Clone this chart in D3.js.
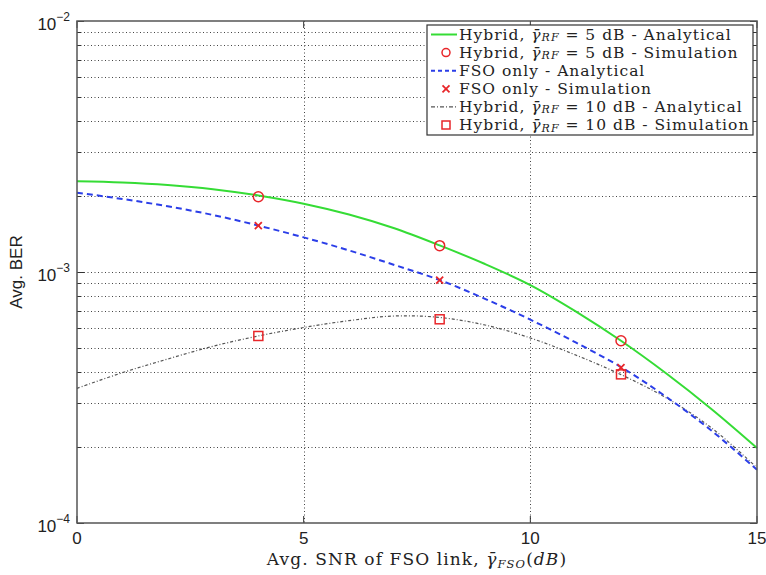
<!DOCTYPE html>
<html>
<head>
<meta charset="utf-8">
<script src="https://cdn.jsdelivr.net/npm/d3@7"></script>
<style>
	body { margin: 0; background: #fff; }
	svg { display: block; }
	.tick-label { font-family: 'Liberation Sans', Arial, sans-serif; font-size: 17px; fill: #222; }
	.serif { font-family: 'DejaVu Serif', serif; fill: #222; }
</style>
</head>
<body>
<div id="chart"></div>
<script>
// snr of the fso link, dB
const snrDb = [0, 1, 2, 3, 4, 5, 6, 7, 8, 9, 10, 11, 12, 13, 14, 15];
// analytical curves, avg ber
const hybrid5Analytical = [2.301e-3, 2.275e-3, 2.223e-3, 2.138e-3, 2.018e-3, 1.871e-3, 1.694e-3, 1.493e-3, 1.276e-3, 1.076e-3, 8.87e-4, 6.97e-4, 5.32e-4, 3.94e-4, 2.84e-4, 1.99e-4];
const fsoAnalytical = [2.07e-3, 1.954e-3, 1.828e-3, 1.687e-3, 1.531e-3, 1.374e-3, 1.219e-3, 1.067e-3, 9.29e-4, 7.82e-4, 6.46e-4, 5.24e-4, 4.18e-4, 3.18e-4, 2.33e-4, 1.63e-4];
const hybrid10Analytical = [3.44e-4, 3.97e-4, 4.5e-4, 5.06e-4, 5.56e-4, 6.01e-4, 6.4e-4, 6.68e-4, 6.59e-4, 6.15e-4, 5.46e-4, 4.67e-4, 3.9e-4, 3.15e-4, 2.39e-4, 1.66e-4];
// simulation points
const simDb = [4, 8, 12];
const hybrid5Sim = [1.995e-3, 1.273e-3, 5.32e-4];
const fsoSim = [1.53e-3, 9.29e-4, 4.16e-4];
const hybrid10Sim = [5.56e-4, 6.48e-4, 3.91e-4];
// ticks
const xTicks = [0, 5, 10, 15];
const yMajor = [1e-4, 1e-3, 1e-2];
const yExp = ['-4', '-3', '-2'];

const width = 766;
const height = 575;
const marginTop = 21;
const marginRight = 9;
const marginBottom = 52;
const marginLeft = 77;
const innerW = width - marginLeft - marginRight;
const innerH = height - marginTop - marginBottom;

const x = d3.scaleLinear().domain([0, 15]).range([0, innerW]);
const y = d3.scaleLog().domain([1e-4, 1e-2]).range([innerH, 0]);

// minor decade ticks 2..9
const yMinor = [];
[1e-4, 1e-3].forEach(d => {
	for (let k = 2; k <= 9; k++) yMinor.push(d * k);
});

const $svg = d3.select('#chart').append('svg')
	.attr('width', width)
	.attr('height', height);

const $g = $svg.append('g')
	.attr('transform', `translate(${marginLeft}, ${marginTop})`);

// grid
const $grid = $g.append('g').attr('class', 'g-grid')
	.attr('stroke', '#444')
	.attr('stroke-width', 1)
	.attr('stroke-dasharray', '1,2.5');

$grid.selectAll('.h')
	.data(yMinor.concat([1e-3]))
	.join('line')
	.attr('x1', 0)
	.attr('x2', innerW)
	.attr('y1', d => Math.round(y(d)) + 0.5)
	.attr('y2', d => Math.round(y(d)) + 0.5);

$grid.selectAll('.v')
	.data([5, 10])
	.join('line')
	.attr('x1', d => Math.round(x(d)) + 0.5)
	.attr('x2', d => Math.round(x(d)) + 0.5)
	.attr('y1', 0)
	.attr('y2', innerH);

// tick marks on all four sides
const $ticks = $g.append('g').attr('stroke', '#333').attr('stroke-width', 1);
const tickRows = yMinor.map(v => ({ v, len: 4 })).concat(yMajor.map(v => ({ v, len: 7 })));
$ticks.selectAll('.tl')
	.data(tickRows)
	.join('line')
	.attr('x1', 0).attr('x2', d => d.len)
	.attr('y1', d => Math.round(y(d.v)) + 0.5)
	.attr('y2', d => Math.round(y(d.v)) + 0.5);
$ticks.selectAll('.tr')
	.data(tickRows)
	.join('line')
	.attr('x1', innerW).attr('x2', d => innerW - d.len)
	.attr('y1', d => Math.round(y(d.v)) + 0.5)
	.attr('y2', d => Math.round(y(d.v)) + 0.5);
$ticks.selectAll('.tb')
	.data(xTicks)
	.join('line')
	.attr('x1', d => x(d)).attr('x2', d => x(d))
	.attr('y1', innerH).attr('y2', innerH - 7);
$ticks.selectAll('.tt')
	.data(xTicks)
	.join('line')
	.attr('x1', d => x(d)).attr('x2', d => x(d))
	.attr('y1', 0).attr('y2', 7);

// lines
const line = d3.line()
	.x(d => x(d[0]))
	.y(d => y(d[1]))
	.curve(d3.curveCatmullRom.alpha(0.5));

const series = [
	{ key: 'h10', vals: hybrid10Analytical, stroke: '#555', width: 1.2, dash: '3,2,1,2' },
	{ key: 'fso', vals: fsoAnalytical, stroke: '#2b3ee8', width: 2, dash: '6,4' },
	{ key: 'h5', vals: hybrid5Analytical, stroke: '#35dc35', width: 2, dash: null }
];

$g.append('g').attr('class', 'g-lines')
	.selectAll('path')
	.data(series)
	.join('path')
	.attr('fill', 'none')
	.attr('stroke', d => d.stroke)
	.attr('stroke-width', d => d.width)
	.attr('stroke-dasharray', d => d.dash)
	.attr('d', d => line(d.vals.map((v, i) => [snrDb[i], v])));

// markers
const red = '#e8262a';
const drawCircle = (sel, cx, cy) => sel.append('circle')
	.attr('cx', cx).attr('cy', cy).attr('r', 5)
	.attr('fill', 'none').attr('stroke', red).attr('stroke-width', 1.5);
const drawCross = (sel, cx, cy) => sel.append('path')
	.attr('d', `M${cx - 3.5},${cy - 3.5}L${cx + 3.5},${cy + 3.5}M${cx - 3.5},${cy + 3.5}L${cx + 3.5},${cy - 3.5}`)
	.attr('stroke', red).attr('stroke-width', 1.8);
const drawSquare = (sel, cx, cy) => sel.append('rect')
	.attr('x', cx - 4.5).attr('y', cy - 4.5).attr('width', 9).attr('height', 9)
	.attr('fill', 'none').attr('stroke', red).attr('stroke-width', 1.5);

const $marks = $g.append('g').attr('class', 'g-marks');
simDb.forEach((d, i) => {
	drawCircle($marks, x(d), y(hybrid5Sim[i]));
	drawCross($marks, x(d), y(fsoSim[i]));
	drawSquare($marks, x(d), y(hybrid10Sim[i]));
});

// frame
$g.append('rect')
	.attr('x', 0).attr('y', 0)
	.attr('width', innerW).attr('height', innerH)
	.attr('fill', 'none')
	.attr('stroke', '#555')
	.attr('stroke-width', 1.5);

// x tick labels
$g.append('g').selectAll('text')
	.data(xTicks)
	.join('text')
	.attr('class', 'tick-label')
	.attr('x', d => x(d))
	.attr('y', innerH + 21)
	.attr('text-anchor', 'middle')
	.text(d => d);

// y tick labels with superscript
const $yl = $g.append('g').selectAll('text')
	.data(yMajor)
	.join('text')
	.attr('class', 'tick-label')
	.attr('x', -7)
	.attr('y', d => y(d) + 8.5)
	.attr('text-anchor', 'end');
$yl.append('tspan').text('10');
$yl.append('tspan')
	.attr('dy', -9)
	.attr('font-size', 12)
	.text((d, i) => '\u2212' + yExp[i].slice(1));

// axis titles
$svg.append('text')
	.attr('class', 'tick-label')
	.attr('transform', `translate(22, ${marginTop + innerH / 2}) rotate(-90)`)
	.attr('text-anchor', 'middle')
	.text('Avg. BER');

const $xt = $svg.append('text')
	.attr('class', 'serif')
	.attr('x', marginLeft + innerW / 2)
	.attr('y', 565)
	.attr('text-anchor', 'middle')
	.attr('font-size', 17)
	.attr('letter-spacing', 1.1);
$xt.append('tspan').text('Avg. SNR of FSO link, ');
$xt.append('tspan').attr('font-style', 'italic').text('\u03B3\u0304');
$xt.append('tspan').attr('font-style', 'italic').attr('font-size', 11.5).attr('dy', 2.5).text('FSO');
$xt.append('tspan').attr('dy', -2.5).text('(');
$xt.append('tspan').attr('font-style', 'italic').text('dB');
$xt.append('tspan').text(')');

// legend
const legendItems = [
	{ kind: 'line', stroke: '#35dc35', width: 2, dash: null, pre: 'Hybrid, ', gamma: true, post: ' = 5 dB - Analytical' },
	{ kind: 'circle', pre: 'Hybrid, ', gamma: true, post: ' = 5 dB - Simulation' },
	{ kind: 'line', stroke: '#2b3ee8', width: 2, dash: '4,3', pre: 'FSO only - Analytical', gamma: false, post: '' },
	{ kind: 'cross', pre: 'FSO only - Simulation', gamma: false, post: '' },
	{ kind: 'line', stroke: '#555', width: 1.2, dash: '4,2,1,2', pre: 'Hybrid, ', gamma: true, post: ' = 10 dB - Analytical' },
	{ kind: 'square', pre: 'Hybrid, ', gamma: true, post: ' = 10 dB - Simulation' }
];

const legX = 427;
const legY = 25;
const legW = 326;
const legH = 110;
const rowH = 18.1;

const $leg = $svg.append('g').attr('class', 'g-legend');
$leg.append('rect')
	.attr('x', legX).attr('y', legY)
	.attr('width', legW).attr('height', legH)
	.attr('fill', '#fff')
	.attr('stroke', '#333')
	.attr('stroke-width', 1.2);

legendItems.forEach((d, i) => {
	const cy = legY + 9.5 + i * rowH;
	if (d.kind === 'line') {
		$leg.append('line')
			.attr('x1', 431).attr('x2', 457)
			.attr('y1', cy).attr('y2', cy)
			.attr('stroke', d.stroke)
			.attr('stroke-width', d.width)
			.attr('stroke-dasharray', d.dash);
	} else if (d.kind === 'circle') {
		drawCircle($leg, 446, cy).attr('r', 4);
	} else if (d.kind === 'cross') {
		drawCross($leg, 446, cy);
	} else {
		drawSquare($leg, 446, cy).attr('x', 442).attr('y', cy - 4).attr('width', 8).attr('height', 8);
	}
	const $t = $leg.append('text')
		.attr('class', 'serif')
		.attr('x', 459)
		.attr('y', cy + 5)
		.attr('font-size', 15.5)
		.attr('letter-spacing', 1);
	$t.append('tspan').text(d.pre);
	if (d.gamma) {
		$t.append('tspan').attr('font-style', 'italic').text('\u03B3\u0304');
		$t.append('tspan').attr('font-style', 'italic').attr('font-size', 11).attr('dy', 1.5).text('RF');
		$t.append('tspan').attr('dy', -1.5).text(d.post);
	}
});
</script>
</body>
</html>
